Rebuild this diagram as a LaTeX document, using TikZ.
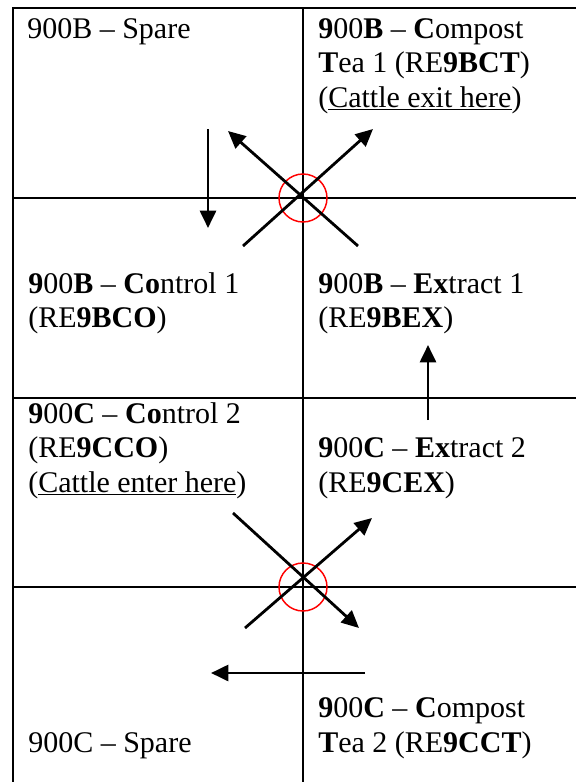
\documentclass[tikz,border=0pt]{standalone}
\usepackage{fontspec}
\setmainfont{Liberation Serif}
\usetikzlibrary{arrows.meta}
\begin{document}
\begin{tikzpicture}[x=0.75pt,y=-0.75pt,
  grid/.style={line width=1.6pt,black},
  arr/.style={line width=2.1pt,black,-{Triangle[length=13pt,width=12pt]}},
  ring/.style={draw=red,line width=1.1pt},
  lbl/.style={anchor=base west,inner sep=0pt,font=\fontsize{22.5}{25.9}\selectfont}]
\useasboundingbox (0,0) rectangle (576,782);
% grid
\draw[grid] (13,782) -- (13,8) -- (576,8);
\draw[grid] (303,8) -- (303,782);
\draw[grid] (13,198) -- (576,198);
\draw[grid] (13,398) -- (576,398);
\draw[grid] (13,587) -- (576,587);
% circles
\node[ring,circle,minimum size=36pt,inner sep=0pt] (o1) at (303,198) {};
\node[ring,circle,minimum size=36pt,inner sep=0pt] (o2) at (303,587) {};
% arrow endpoints
\coordinate (d1) at (208,129); \coordinate (d2) at (208,228);
\coordinate (a1) at (243,246); \coordinate (a2) at (373,129);
\coordinate (b1) at (358,246); \coordinate (b2) at (228,131);
\coordinate (e1) at (233,513); \coordinate (e2) at (359,628);
\coordinate (f1) at (245,628); \coordinate (f2) at (372,518);
\coordinate (g1) at (365,673); \coordinate (g2) at (211,673);
\coordinate (h1) at (428,420); \coordinate (h2) at (428,345);
\draw[arr] (d1) -- (d2);
\draw[arr] (a1) -- (a2);
\draw[arr] (b1) -- (b2);
\draw[arr] (e1) -- (e2);
\draw[arr] (f1) -- (f2);
\draw[arr] (g1) -- (g2);
\draw[arr] (h1) -- (h2);
% texts
\node[lbl] (c11) at (27,38) {900B -- Spare};
\node[lbl] (c12a) at (318,38) {\textbf{9}00\textbf{B} -- \textbf{C}ompost};
\node[lbl] (c12b) at (318,72.5) {\textbf{T}ea 1 (RE\textbf{9BCT})};
\node[lbl] (c12c) at (318,107) {(\underline{Cattle exit here})};
\node[lbl] (c21a) at (28,293) {\textbf{9}00\textbf{B} -- \textbf{Co}ntrol 1};
\node[lbl] (c21b) at (28,327.5) {(RE\textbf{9BCO})};
\node[lbl] (c22a) at (318,293) {\textbf{9}00\textbf{B} -- \textbf{Ex}tract 1};
\node[lbl] (c22b) at (318,327.5) {(RE\textbf{9BEX})};
\node[lbl] (c31a) at (28,423) {\textbf{9}00\textbf{C} -- \textbf{Co}ntrol 2};
\node[lbl] (c31b) at (28,457.5) {(RE\textbf{9CCO})};
\node[lbl] (c31c) at (28,492) {(\underline{Cattle enter here})};
\node[lbl] (c32a) at (318,457.5) {\textbf{9}00\textbf{C} -- \textbf{Ex}tract 2};
\node[lbl] (c32b) at (318,492) {(RE\textbf{9CEX})};
\node[lbl] (c41) at (28,752) {900C -- Spare};
\node[lbl] (c42a) at (318,717) {\textbf{9}00\textbf{C} -- \textbf{C}ompost};
\node[lbl] (c42b) at (318,752) {\textbf{T}ea 2 (RE\textbf{9CCT})};
\end{tikzpicture}
\end{document}
